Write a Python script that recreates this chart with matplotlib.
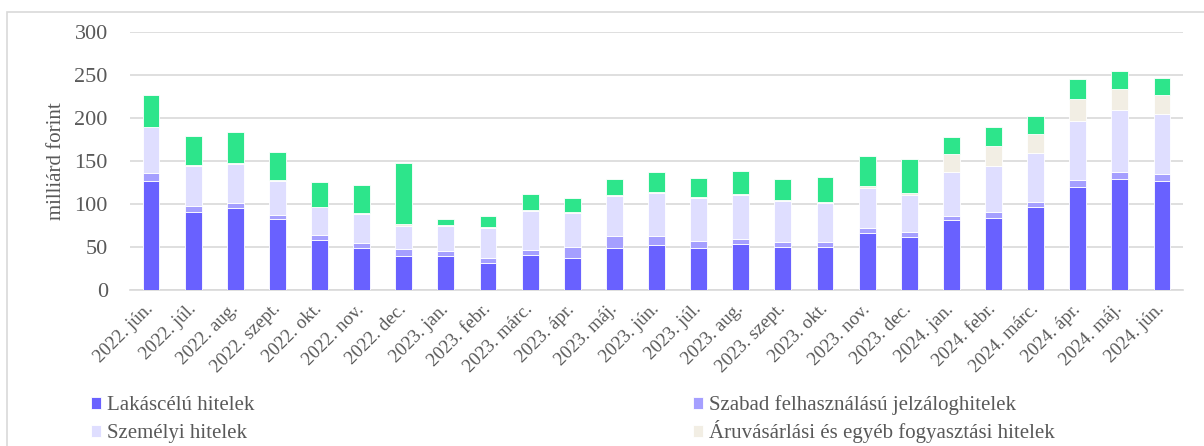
import matplotlib.pyplot as plt
import numpy as np
from matplotlib.patches import Rectangle

months = ["2022. jún.", "2022. júl.", "2022. aug.", "2022. szept.", "2022. okt.",
          "2022. nov.", "2022. dec.", "2023. jan.", "2023. febr.", "2023. márc.",
          "2023. ápr.", "2023. máj.", "2023. jún.", "2023. júl.", "2023. aug.",
          "2023. szept.", "2023. okt.", "2023. nov.", "2023. dec.", "2024. jan.",
          "2024. febr.", "2024. márc.", "2024. ápr.", "2024. máj.", "2024. jún."]

lakas = [127, 91, 95, 82, 58.5, 48.5, 39.5, 39.5, 31.5, 40.5, 37, 48.5, 52.5,
         49, 53.5, 50, 50, 66, 62, 81.5, 84, 97, 120, 129, 127]
szabad = [9, 6.5, 6.5, 5, 5, 6, 8, 6, 6, 6.5, 13, 14.5, 10.5, 8.5, 6, 6, 6,
          6, 5.5, 4.5, 6.5, 5.5, 8, 8, 8]
szemelyi = [53, 46.5, 45.5, 40, 32.5, 33.5, 27.3, 29.5, 35, 44.5, 39.5, 46, 50,
            49.5, 51, 48, 45, 47, 42.6, 51.6, 54, 56.5, 69, 72.5, 70]
aru = [1, 1, 1, 1, 1, 1, 2, 1, 1, 1, 1, 1, 1, 1, 1, 1, 1, 2.5, 2.5, 21, 23.5,
       22.5, 25, 24, 22]
egyeb = [36.5, 33.5, 36, 32, 28.5, 33, 70.5, 6.5, 12, 19, 16, 19, 23, 22,
         26.5, 24.5, 29, 34, 39.5, 19, 21.5, 20.5, 23, 21, 20]

series = [
    ("Lakáscélú hitelek", lakas, "#6961FF"),
    ("Szabad felhasználású jelzáloghitelek", szabad, "#A59FFF"),
    ("Személyi hitelek", szemelyi, "#DFDEFF"),
    ("Áruvásárlási és egyéb fogyasztási hitelek", aru, "#F2EEE4"),
    ("Egyéb hitelek", egyeb, "#2DE58B"),
]

plt.rcParams['font.family'] = ['Liberation Serif', 'DejaVu Serif']
txt = '#595959'
grid = '#D9D9D9'

fig = plt.figure(figsize=(12.04, 4.46), dpi=100)
ax = fig.add_axes([130 / 1204, 1 - 290 / 446, 1053 / 1204, 258 / 446])

x = np.arange(len(months))
bottom = np.zeros(len(months))
handles = {}
for name, vals, col in series:
    b = ax.bar(x, vals, width=0.4, bottom=bottom, color=col,
               edgecolor='white', linewidth=0.6, zorder=3, label=name)
    handles[name] = b
    bottom += np.array(vals)

ax.set_xlim(-0.5, len(months) - 0.5)
ax.set_ylim(0, 300)
ax.set_yticks(range(0, 301, 50))
ax.yaxis.grid(True, color=grid, linewidth=1.2, zorder=0)
for s in ['left', 'right', 'top']:
    ax.spines[s].set_visible(False)
ax.spines['bottom'].set_color(grid)
ax.spines['bottom'].set_linewidth(1.2)
ax.tick_params(axis='both', length=0, colors=txt)
ax.tick_params(axis='y', labelsize=16, pad=16)
ax.set_xticks(x)
ax.set_xticklabels(months, rotation=45, rotation_mode='anchor',
                   ha='right', va='center', fontsize=13.5, color=txt)
ax.tick_params(axis='x', pad=12)
ax.set_ylabel("milliárd forint", fontsize=15, color=txt, labelpad=6)

fig.patches.append(Rectangle((7 / 1204, -0.1), 1.2, 1.1 - 12 / 446,
                             transform=fig.transFigure, fill=False,
                             edgecolor=grid, linewidth=1.2))

# legend laid out in a 2x2 grid, one small legend per entry so baselines match
leg_grid = [("Lakáscélú hitelek", 91, 415),
            ("Szabad felhasználású jelzáloghitelek", 693, 415),
            ("Személyi hitelek", 91, 443),
            ("Áruvásárlási és egyéb fogyasztási hitelek", 693, 443)]
for name, lx, ly in leg_grid:
    lg = fig.legend([handles[name]], [name], frameon=False, loc='lower left',
                    fontsize=15, handlelength=0.5, handleheight=0.5,
                    handletextpad=0.25, borderpad=0, borderaxespad=0,
                    labelcolor=txt, bbox_to_anchor=(lx / 1204, 1 - ly / 446))

fig.savefig("out.png", dpi=100)
